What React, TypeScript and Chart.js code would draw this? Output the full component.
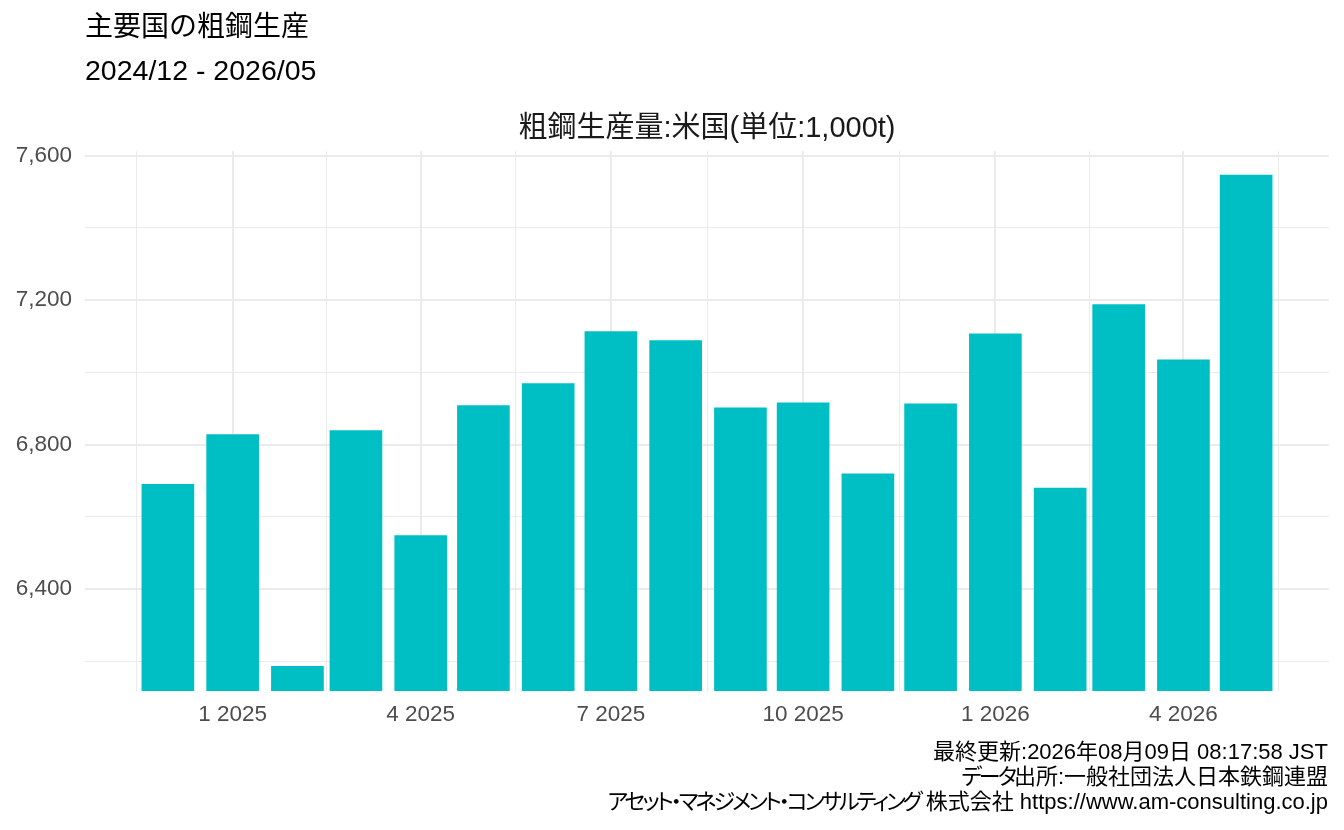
import { useEffect, useRef } from "react";
import { Chart, registerables } from "chart.js";

Chart.register(...registerables);

// monthly crude steel output, United States (1,000 t)
const months = [
  "2024-12", "2025-01", "2025-02", "2025-03", "2025-04", "2025-05",
  "2025-06", "2025-07", "2025-08", "2025-09", "2025-10", "2025-11",
  "2025-12", "2026-01", "2026-02", "2026-03", "2026-04", "2026-05",
];
const usOutput = [
  6691, 6829, 6187, 6840, 6549, 6909,
  6970, 7114, 7089, 6903, 6917, 6720,
  6914, 7108, 6681, 7189, 7036, 7547,
];

// date breaks every 3 months (labels only where they fall inside the panel)
const xBreakMonths = [
  "2024-10", "2025-01", "2025-04", "2025-07",
  "2025-10", "2026-01", "2026-04", "2026-07",
];
const yMajorTicks = [6400, 6800, 7200, 7600];
const yMinorTicks = [6200, 6600, 7000, 7400];
const yMin = 6118;
const yMax = 7613;

const titleText = "主要国の粗鋼生産";
const periodText = "2024/12 - 2026/05";
const plotTitle = "粗鋼生産量:米国(単位:1,000t)";
const captionLines = [
  "最終更新:2026年08月09日 08:17:58 JST",
  "データ出所:一般社団法人日本鉄鋼連盟",
  "アセット・マネジメント・コンサルティング 株式会社 https://www.am-consulting.co.jp",
];

const FONT = '"Liberation Sans", "Noto Sans CJK JP", sans-serif';
const BAR = "#00BFC4";
const GRID = "#EBEBEB";
const AXIS_TEXT = "#4D4D4D";

const dayOf = (ym: string) => {
  const [y, m] = ym.split("-").map(Number);
  return Date.UTC(y, m - 1, 1) / 86400000;
};

const monthLabel = (day: number) => {
  const d = new Date(day * 86400000);
  return `${d.getUTCMonth() + 1} ${d.getUTCFullYear()}`;
};

// katakana in the caption is set proportionally and tight, as in the original
function CaptionLine({ line }: { line: string }) {
  const parts = line.split(/([\u30A0-\u30FF]+)/).filter((p) => p !== "");
  return (
    <div>
      {parts.map((p, i) =>
        /^[\u30A0-\u30FF]+$/.test(p) ? (
          <span key={i} style={{ fontFeatureSettings: '"palt"', letterSpacing: "-3px" }}>
            {p}
          </span>
        ) : (
          <span key={i}>{p}</span>
        )
      )}
    </div>
  );
}

export default function App() {
  const chartRef = useRef<HTMLCanvasElement | null>(null);
  const chartInstanceRef = useRef<Chart | null>(null);

  useEffect(() => {
    const canvas = chartRef.current;
    if (!canvas) return;
    const ctx = canvas.getContext("2d");
    if (!ctx) return;

    if (chartInstanceRef.current) {
      chartInstanceRef.current.destroy();
    }

    const days = months.map(dayOf);
    let minGap = Infinity;
    for (let i = 1; i < days.length; i++) minGap = Math.min(minGap, days[i] - days[i - 1]);
    const half = 0.45 * minGap;
    const lo = days[0] - half;
    const hi = days[days.length - 1] + half;
    const pad = 0.05 * (hi - lo);
    const xMin = lo - pad;
    const xMax = hi + pad;

    const breakDays = xBreakMonths.map(dayOf);
    const xMajor = breakDays.filter((d) => d >= xMin && d <= xMax);
    const xMinor: number[] = [];
    for (let i = 1; i < breakDays.length; i++) {
      const mid = (breakDays[i] + breakDays[i - 1]) / 2;
      if (mid >= xMin && mid <= xMax) xMinor.push(mid);
    }
    const xTicks = [...xMajor, ...xMinor].sort((a, b) => a - b);
    const yTicks = [...yMajorTicks, ...yMinorTicks].sort((a, b) => a - b);

    const isXMajor = (v: number) => xMajor.includes(v);
    const isYMajor = (v: number) => yMajorTicks.includes(v);

    Chart.defaults.font.family = FONT;

    chartInstanceRef.current = new Chart(ctx, {
      type: "bar",
      data: {
        datasets: [
          {
            label: "米国",
            data: days.map((d, i) => ({ x: d, y: usOutput[i] })),
            backgroundColor: BAR,
            borderWidth: 0,
            barPercentage: 0.9,
            categoryPercentage: 1.0,
          },
        ],
      },
      options: {
        responsive: false,
        animation: false,
        layout: { padding: { left: 0, right: 15, top: 151, bottom: 99 } },
        scales: {
          x: {
            type: "linear",
            min: xMin,
            max: xMax,
            bounds: "data",
            offset: false,
            afterBuildTicks: (scale) => {
              scale.ticks = xTicks.map((v) => ({ value: v }));
            },
            afterFit: (scale) => {
              scale.height = 40;
            },
            grid: {
              offset: false,
              drawTicks: false,
              color: GRID,
              lineWidth: (c) => (isXMajor(c.tick.value) ? 2 : 1),
            },
            border: { display: false },
            ticks: {
              autoSkip: false,
              maxRotation: 0,
              padding: 10,
              color: AXIS_TEXT,
              font: { size: 22.5 },
              callback: (v) => (isXMajor(Number(v)) ? monthLabel(Number(v)) : ""),
            },
          },
          y: {
            type: "linear",
            min: yMin,
            max: yMax,
            bounds: "data",
            afterBuildTicks: (scale) => {
              scale.ticks = yTicks.map((v) => ({ value: v }));
            },
            afterFit: (scale) => {
              scale.width = 85;
            },
            grid: {
              drawTicks: false,
              color: GRID,
              lineWidth: (c) => (isYMajor(c.tick.value) ? 2 : 1),
            },
            border: { display: false },
            ticks: {
              padding: 13,
              color: AXIS_TEXT,
              font: { size: 22.5 },
              callback: (v) => (isYMajor(Number(v)) ? Number(v).toLocaleString("en-US") : ""),
            },
          },
        },
        plugins: {
          legend: { display: false },
          tooltip: { enabled: false },
        },
      },
    });

    return () => {
      if (chartInstanceRef.current) {
        chartInstanceRef.current.destroy();
        chartInstanceRef.current = null;
      }
    };
  }, []);

  const text: React.CSSProperties = {
    position: "absolute",
    fontFamily: FONT,
    whiteSpace: "nowrap",
    color: "#000",
  };

  return (
    <div style={{ position: "absolute", left: 0, top: 0, width: 1344, height: 830, background: "#fff", overflow: "hidden" }}>
      <canvas ref={chartRef} width={1344} height={830} style={{ position: "absolute", left: 0, top: 0 }} />
      <div style={{ ...text, left: 85, top: 13, fontSize: 28, lineHeight: "28px" }}>{titleText}</div>
      <div style={{ ...text, left: 85, top: 56, fontSize: 28.5, lineHeight: "28px" }}>{periodText}</div>
      <div style={{ ...text, left: 85, width: 1244, top: 113, fontSize: 29, lineHeight: "28px", textAlign: "center", color: "#1A1A1A" }}>
        {plotTitle}
      </div>
      <div style={{ ...text, right: 16, top: 739, fontSize: 22, lineHeight: "25px", textAlign: "right" }}>
        {captionLines.map((line) => (
          <CaptionLine key={line} line={line} />
        ))}
      </div>
    </div>
  );
}
